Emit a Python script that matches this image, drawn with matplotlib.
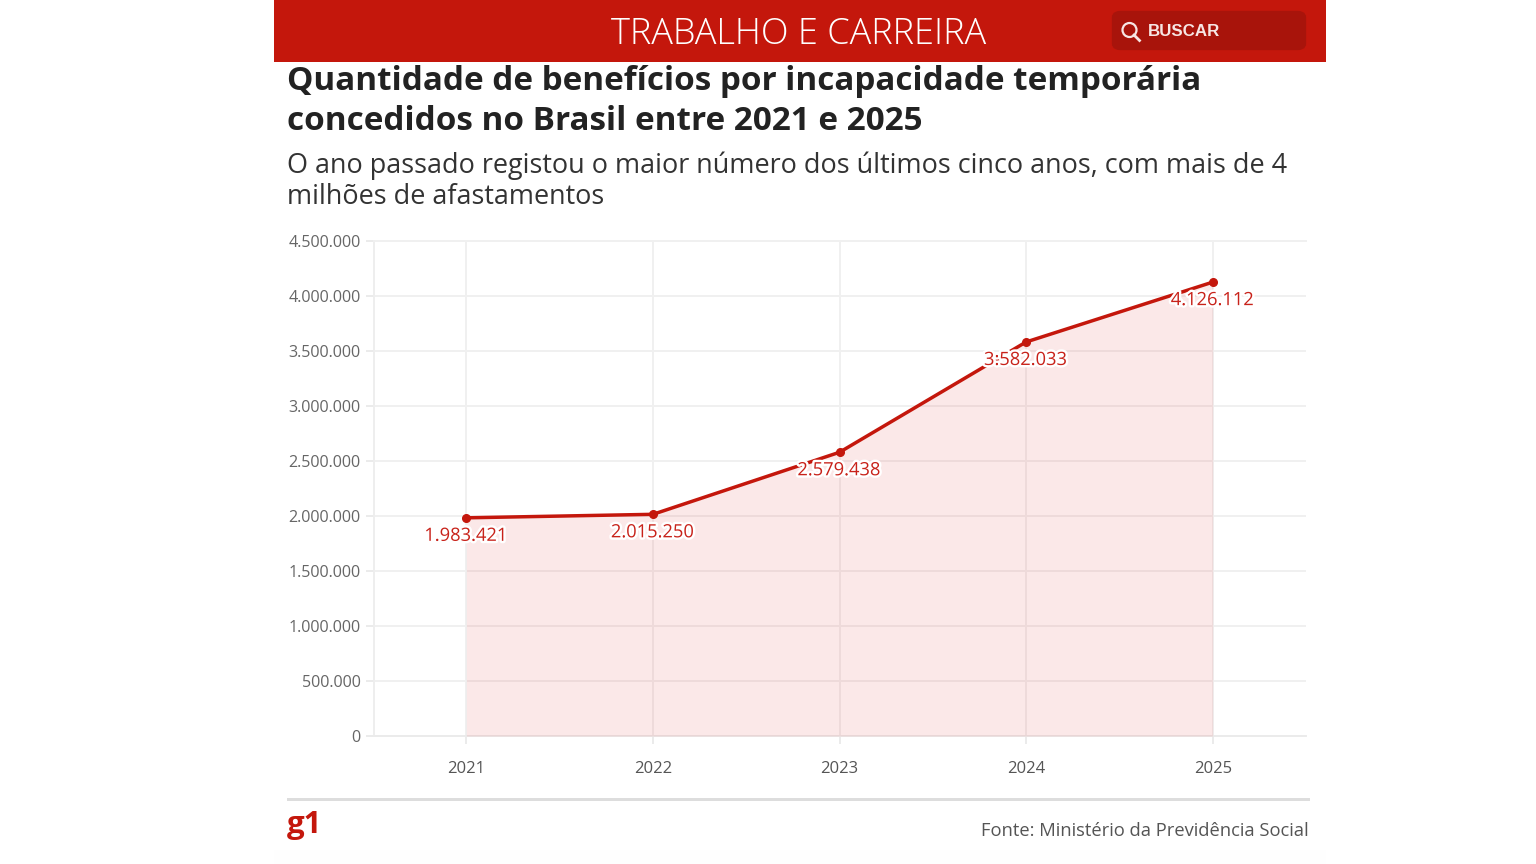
import matplotlib
matplotlib.use('Agg')
import matplotlib.pyplot as plt
import matplotlib.patheffects as pe
from matplotlib.patches import Rectangle, FancyBboxPatch, Ellipse
from matplotlib.lines import Line2D

anos = [2021, 2022, 2023, 2024, 2025]
beneficios = [1983421, 2015250, 2579438, 3582033, 4126112]
rotulos = ['1.983.421', '2.015.250', '2.579.438', '3:582.033', '4.126.112']
y_ticks = [0, 500000, 1000000, 1500000, 2000000, 2500000, 3000000, 3500000, 4000000, 4500000]
y_labels = ['0', '500.000', '1.000.000', '1.500.000', '2.000.000', '2.500.000',
            '3.000.000', '3.500.000', '4.000.000', '4.500.000']

W, H = 1536, 864
VERMELHO = '#c4170c'
plt.rcParams['font.family'] = ['Open Sans', 'DejaVu Sans']

fig = plt.figure(figsize=(W / 100, H / 100), dpi=100, facecolor='white')


# tudo fora do grafico e posicionado em pixels da imagem
def px(x, y):
    return x / W, 1 - y / H


def texto(x, y, s, **kw):
    fx, fy = px(x, y)
    return fig.text(fx, fy, s, **kw)


def ret(x0, y0, x1, y1, cor):
    fx, fy = px(x0, y1)
    fig.add_artist(Rectangle((fx, fy), (x1 - x0) / W, (y1 - y0) / H,
                             transform=fig.transFigure, facecolor=cor, edgecolor='none'))


# cabecalho
ret(274, 0, 1326, 62, '#c4170c')
ret(274, 850, 1326, 864, '#fefefe')
fx, fy = px(1112, 50)
fig.add_artist(FancyBboxPatch((1116 / W, fy + 4 / H), 186 / W, 31 / H,
                              boxstyle='round,pad=0,rounding_size=0.003',
                              transform=fig.transFigure, facecolor='#a8140b', edgecolor='#a8140b',
                              linewidth=6, mutation_aspect=1))
texto(798.5, 34, 'TRABALHO E CARREIRA', color='white', fontsize=26, ha='center', va='center',
      fontweight='light')
texto(1148, 32, 'BUSCAR', color='#f7e6e4', fontsize=12.2, fontweight='bold', ha='left', va='center',
      family=['Liberation Sans', 'DejaVu Sans'])

# lupa
fig.add_artist(Line2D([1134 / W, 1139.5 / W], [1 - 35 / H, 1 - 40.5 / H], color='#f7e6e4', lw=2,
                      transform=fig.transFigure))
fig.add_artist(Ellipse((1129.5 / W, 1 - 30 / H), 14 / W, 14 / H, transform=fig.transFigure,
                       facecolor='none', edgecolor='#f7e6e4', lw=1.6))

# titulo e subtitulo
texto(287, 82, 'Quantidade de benefícios por incapacidade temporária', color='#222222',
      fontsize=23.98, fontweight='bold', ha='left', va='center')
texto(287, 122, 'concedidos no Brasil entre 2021 e 2025', color='#222222',
      fontsize=23.98, fontweight='bold', ha='left', va='center')
texto(287, 165.5, 'O ano passado registou o maior número dos últimos cinco anos, com mais de 4',
      color='#333333', fontsize=19.47, ha='left', va='center')
texto(287, 197.5, 'milhões de afastamentos', color='#333333', fontsize=19.47, ha='left', va='center')

# grafico
ax = fig.add_axes([374 / W, 1 - 736 / H, (1306 - 374) / W, (736 - 241) / H])
ax.set_xlim(2020.505, 2025.5)
ax.set_ylim(0, 4500000)
ax.set_facecolor('none')
for s in ax.spines.values():
    s.set_visible(False)

ax.set_yticks(y_ticks)
ax.set_yticklabels(y_labels)
ax.set_xticks(anos)
ax.grid(True, color='#f0f0f0', linewidth=1.4, zorder=0)
ax.set_axisbelow(True)
ax.tick_params(axis='y', length=6, width=1.2, color='#e8e8e8', labelcolor='#666666', labelsize=11.65, pad=3.5)
ax.tick_params(axis='x', length=6, width=1.2, color='#e8e8e8', labelcolor='#555555', labelsize=12, pad=12)
ax.plot([2020.505, 2020.505], [0, 4500000], color='#eeeeee', lw=1.4, clip_on=False, zorder=1)
ax.plot([2020.505, 2025.5], [0, 0], color='#ebebeb', lw=1.4, clip_on=False, zorder=1)
ax.plot([2020.505, 2025.5], [4500000, 4500000], color='#f0f0f0', lw=1.4, clip_on=False, zorder=1)

ax.fill_between(anos, beneficios, 0, color='#e02020', alpha=0.1, linewidth=0, zorder=2)
ax.plot(anos, beneficios, color=VERMELHO, lw=2.5, zorder=3, solid_capstyle='round')
ax.plot(anos, beneficios, 'o', color=VERMELHO, ms=5.5, zorder=4)

# rotulos com contorno branco, cortando a linha
for a, b, r in zip(anos, beneficios, rotulos):
    ax.annotate(r, (a, b), xytext=(-0.5, -18), textcoords='offset pixels', ha='center', va='center',
                color='#c8221a', fontsize=13.2, zorder=5,
                path_effects=[pe.withStroke(linewidth=3.5, foreground='white')])

# rodape
ret(287, 798, 1310, 800.5, '#dddddd')
texto(287, 825, 'g1', color=VERMELHO, fontsize=22.5, fontweight='bold', ha='left', va='center')
texto(1309, 831, 'Fonte: Ministério da Previdência Social', color='#555555', fontsize=13.2,
      ha='right', va='center')

fig.savefig('out.png', dpi=100, facecolor='white')
